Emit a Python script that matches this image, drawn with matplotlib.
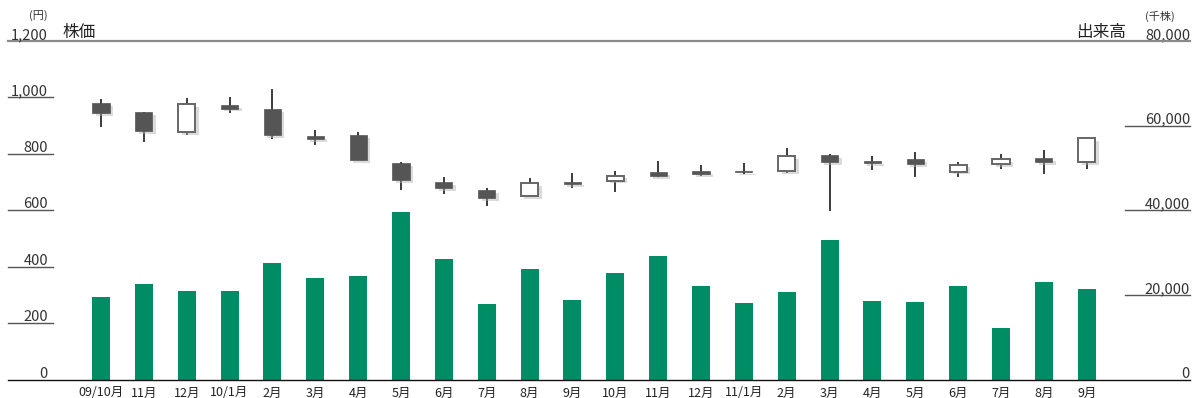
import matplotlib
matplotlib.use("Agg")
import matplotlib.pyplot as plt
import matplotlib.patheffects as pe
from matplotlib.transforms import blended_transform_factory, offset_copy

plt.rcParams["font.family"] = ["Noto Sans CJK JP", "DejaVu Sans"]

# Monthly labels
months = ["09/10月", "11月", "12月", "10/1月", "2月", "3月", "4月", "5月", "6月",
          "7月", "8月", "9月", "10月", "11月", "12月", "11/1月", "2月", "3月",
          "4月", "5月", "6月", "7月", "8月", "9月"]

# Share price (yen): open, high, low, close
price_open = [980, 948, 876, 973, 959, 863, 866, 767, 699, 671, 649, 699,
              705, 735, 738, 738, 740, 796, 773, 781, 737, 763, 785, 771]
price_high = [994, 948, 998, 1001, 1030, 884, 877, 770, 717, 678, 714, 731,
              738, 774, 760, 767, 820, 800, 792, 806, 770, 799, 813, 859]
price_low = [896, 842, 867, 945, 852, 832, 778, 671, 658, 615, 649, 678,
             664, 718, 722, 729, 733, 598, 742, 718, 718, 747, 729, 746]
price_close = [945, 880, 975, 960, 866, 852, 778, 707, 679, 643, 696, 692,
               723, 721, 729, 735, 792, 770, 767, 763, 762, 780, 770, 855]

# Trading volume (thousand shares)
volume = [19400, 22500, 20800, 20800, 27500, 23900, 24400, 39500, 28400, 17800,
          26000, 18900, 25100, 29300, 22000, 18000, 20600, 32900, 18500, 18200,
          22200, 12100, 23000, 21500]

price_ticks = [0, 200, 400, 600, 800, 1000, 1200]
volume_ticks = [0, 20000, 40000, 60000, 80000]

W, H = 1193, 398
fig = plt.figure(figsize=(W / 100, H / 100), dpi=100)
left_px, right_px, top_px, bottom_px = 8, 1190, 41, 379.5
ax_vol = fig.add_axes([left_px / W, 1 - bottom_px / H,
                       (right_px - left_px) / W, (bottom_px - top_px) / H])
ax = ax_vol.twinx()
ax.set_position(ax_vol.get_position())
# price axes on top of the volume bars
ax.set_zorder(ax_vol.get_zorder() + 1)
ax.patch.set_visible(False)

x = list(range(len(months)))
xlim = (-2.17, 25.41)

GREEN = "#008c64"
DARK = "#555555"

ax_vol.bar(x, volume, width=0.42, color=GREEN, zorder=2)
ax_vol.set_ylim(0, 80000)
ax_vol.set_xlim(*xlim)

shadow = [pe.SimplePatchShadow(offset=(2.5, -2), shadow_rgbFace="#b0b0b0", alpha=0.45),
          pe.Normal()]

for i in x:
    o, h, l, c = price_open[i], price_high[i], price_low[i], price_close[i]
    ax.vlines(i, l, h, color="#1a1a1a", lw=1.2, zorder=3)
    lo, hi = min(o, c), max(o, c)
    if c < o:
        bars = ax.bar(i, hi - lo, bottom=lo, width=0.40, color=DARK,
                      edgecolor=DARK, lw=0.5, zorder=4)
    else:
        bars = ax.bar(i, hi - lo, bottom=lo, width=0.40, color="white",
                      edgecolor="#666666", lw=1.4, zorder=4)
    for b in bars:
        b.set_path_effects(shadow)

ax.set_ylim(0, 1200)
ax.set_xlim(*xlim)

for a in (ax, ax_vol):
    for s in a.spines.values():
        s.set_visible(False)
    a.set_yticks([])
ax.set_xticks([])
ax_vol.set_xticks(x)
ax_vol.set_xticklabels(months, fontsize=9, color="#222222")
ax_vol.tick_params(axis="x", length=0, pad=5)

# frame lines: grey top rule and black baseline
ax.axhline(1200, color="#8a8a8a", lw=1.6, zorder=1, clip_on=False)
ax.axhline(0, color="#111111", lw=1.0, zorder=5, clip_on=False)

span = right_px - left_px
trans_l = blended_transform_factory(ax.transAxes, ax.transData)
trans_r = blended_transform_factory(ax_vol.transAxes, ax_vol.transData)
txt_l = offset_copy(trans_l, fig=fig, x=0, y=2, units="dots")
txt_r = offset_copy(trans_r, fig=fig, x=0, y=2, units="dots")

for v in price_ticks:
    ax.text((48 - left_px) / span, v, f"{v:,}", transform=txt_l, ha="right",
            va="baseline", fontsize=10.5, color="#333333")
    if 0 < v < 1200:
        ax.plot([0, (53 - left_px) / span], [v, v], transform=trans_l,
                color="#555555", lw=1.0, clip_on=False)

for v in volume_ticks:
    ax_vol.text(1.0, v, f"{v:,}", transform=txt_r, ha="right",
                va="baseline", fontsize=10.5, color="#333333")
    if 0 < v < 80000:
        ax_vol.plot([(1125 - left_px) / span, 1.0], [v, v], transform=trans_r,
                    color="#555555", lw=1.0, clip_on=False)

# axis captions
fig.text(38 / W, 1 - 16 / H, "(円)", ha="center", va="center", fontsize=8, color="#333333")
fig.text(62 / W, 1 - 32 / H, "株価", ha="left", va="center", fontsize=12, color="#222222")
fig.text(1126 / W, 1 - 32 / H, "出来高", ha="right", va="center", fontsize=12, color="#222222")
fig.text(1160 / W, 1 - 16 / H, "(千株)", ha="center", va="center", fontsize=8, color="#333333")

fig.savefig("out.png", dpi=100, facecolor="white")
